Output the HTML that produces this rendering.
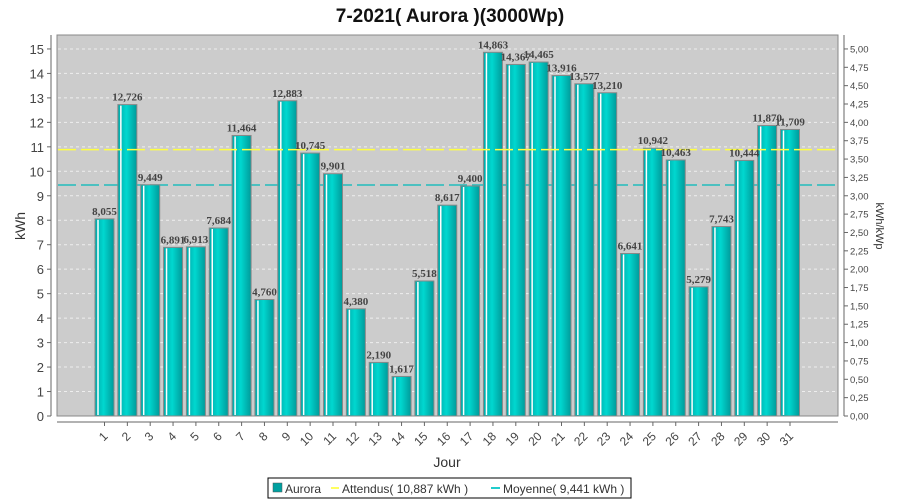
<!DOCTYPE html>
<html><head><meta charset="utf-8"><style>
body{margin:0;background:#fff;}
svg{display:block;font-family:"Liberation Sans",sans-serif;}
</style></head><body>
<svg id="chart" width="900" height="500" viewBox="0 0 900 500">
<defs>
<linearGradient id="barg" x1="0" x2="1" y1="0" y2="0">
<stop offset="0" stop-color="#00a8a8"/><stop offset="0.45" stop-color="#00d8d0"/><stop offset="1" stop-color="#009a9a"/>
</linearGradient>
</defs>
<rect x="0" y="0" width="900" height="500" fill="#fff"/>
<text x="450" y="22" text-anchor="middle" font-size="19" font-weight="bold" fill="#111">7-2021( Aurora )(3000Wp)</text>
<rect x="57" y="35" width="781" height="381" fill="#cccccc" stroke="#888"/>
<g id="grid"></g>
<g id="avgLine"></g>
<g id="bars"></g>
<g id="expLine"></g>
<g id="labels"></g>
<g id="yaxis"></g>
<g id="y2axis"></g>
<g id="xaxis"></g>
<text x="0" y="0" transform="translate(25,226) rotate(-90)" text-anchor="middle" font-size="14" fill="#333">kWh</text>
<text x="0" y="0" transform="translate(876,226) rotate(90)" text-anchor="middle" font-size="11" fill="#333">kWh/kWp</text>
<text x="447" y="467" text-anchor="middle" font-size="14" fill="#333">Jour</text>
<g>
<rect x="268" y="478" width="363" height="20" fill="#fff" stroke="#000"/>
<rect x="273" y="483" width="9" height="9" fill="#00a0a0" stroke="#555" stroke-width="0.5"/>
<text x="285" y="493" font-size="12" fill="#333">Aurora</text>
<line x1="331" y1="488" x2="339" y2="488" stroke="#ffff60" stroke-width="2"/>
<text x="342" y="493" font-size="12" fill="#333">Attendus( 10,887 kWh )</text>
<line x1="491" y1="488" x2="500" y2="488" stroke="#22cccc" stroke-width="2"/>
<text x="503" y="493" font-size="12" fill="#333">Moyenne( 9,441 kWh )</text>
</g>
</svg>
<script>
const days=[1,2,3,4,5,6,7,8,9,10,11,12,13,14,15,16,17,18,19,20,21,22,23,24,25,26,27,28,29,30,31];
const values=[8.055,12.726,9.449,6.891,6.913,7.684,11.464,4.760,12.883,10.745,9.901,4.380,2.190,1.617,5.518,8.617,9.400,14.863,14.367,14.465,13.916,13.577,13.210,6.641,10.942,10.463,5.279,7.743,10.444,11.870,11.709];
const yTicks=[0,1,2,3,4,5,6,7,8,9,10,11,12,13,14,15];
const y2Ticks=[0,0.25,0.5,0.75,1,1.25,1.5,1.75,2,2.25,2.5,2.75,3,3.25,3.5,3.75,4,4.25,4.5,4.75,5];
const expected=[10.887];
const average=[9.441];
const peak=[3];
const NS="http://www.w3.org/2000/svg";
const y=v=>416-v*24.47;
const y2=v=>y(v*peak[0]);
const x=i=>104.5+i*22.85;
function mk(tag,attrs,parent,txt){const e=document.createElementNS(NS,tag);for(const k in attrs)e.setAttribute(k,attrs[k]);if(txt!==undefined)e.textContent=txt;document.getElementById(parent).appendChild(e);return e;}
const fmt=v=>v.toFixed(3).replace('.',',');
yTicks.forEach(t=>{
  if(t>0){const g=mk('line',{x1:58,x2:837,y1:y(t),y2:y(t),stroke:'#eee','stroke-dasharray':'3,3','stroke-width':1},'grid');
  
  }
  mk('line',{x1:47,x2:51,y1:y(t),y2:y(t),stroke:'#666'},'yaxis');
  const tl=mk('text',{x:44,y:y(t)+5,'text-anchor':'end','font-size':13,fill:'#444'},'yaxis',String(t));
  
  
});
mk('line',{x1:51,x2:51,y1:35,y2:416,stroke:'#666'},'yaxis');
y2Ticks.forEach(t=>{
  mk('line',{x1:844,x2:848,y1:y2(t),y2:y2(t),stroke:'#666'},'y2axis');
  const tl=mk('text',{x:850,y:y2(t)+3.5,'font-size':9.5,fill:'#444'},'y2axis',t.toFixed(2).replace('.',','));
  
  
});
mk('line',{x1:844,x2:844,y1:35,y2:416,stroke:'#666'},'y2axis');
mk('line',{x1:57,x2:838,y1:422,y2:422,stroke:'#666'},'xaxis');
const al=mk('line',{x1:58,x2:837,y1:y(average[0]),y2:y(average[0]),stroke:'#22bbbb','stroke-width':1.5,'stroke-dasharray':'18,5'},'avgLine');


const el=mk('line',{x1:58,x2:837,y1:y(expected[0]),y2:y(expected[0]),stroke:'#ffff40','stroke-width':1.5,'stroke-dasharray':'18,5'},'expLine');


values.forEach((v,i)=>{
  const cx=x(i),w=19,top=y(v);
  const r=mk('rect',{x:cx-w/2,y:top,width:w,height:416-top,fill:'url(#barg)',stroke:'#888','stroke-width':1},'bars');
  
  
  mk('line',{x1:cx-w/2+3,x2:cx-w/2+3,y1:top+1,y2:415,stroke:'#fff','stroke-width':1.5},'bars');
  const t=mk('text',{x:cx,y:top-4,'text-anchor':'middle','font-size':11,'font-weight':'bold',fill:'#444','font-family':'Liberation Serif, serif'},'labels',fmt(v));
  
  
  mk('line',{x1:cx,x2:cx,y1:422,y2:426,stroke:'#666'},'xaxis');
  const xl=mk('text',{x:0,y:0,transform:`translate(${cx+4},${437}) rotate(-45)`,'text-anchor':'end','font-size':12,fill:'#444'},'xaxis',String(days[i]));
  
  
});
</script>
</body></html>
